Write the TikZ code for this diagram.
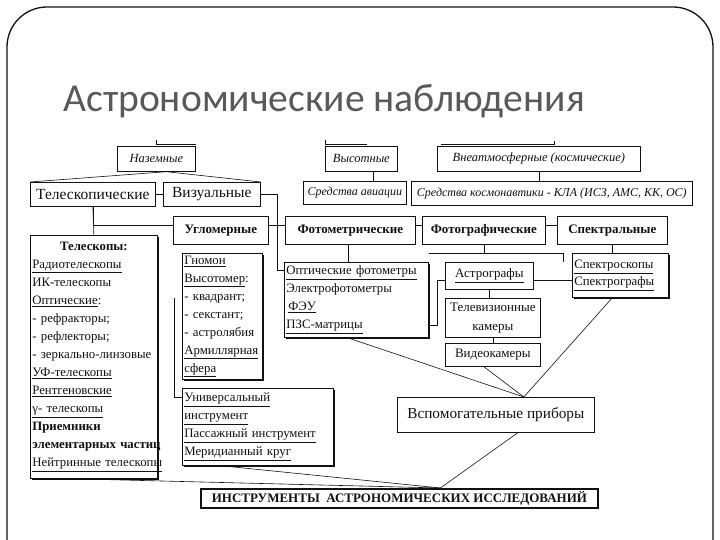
\documentclass[tikz,border=0pt]{standalone}
\usepackage{fontspec}
\setmainfont{Liberation Serif}
\newfontfamily\titlefont{Carlito}
\usetikzlibrary{positioning, calc, shadows}
\definecolor{Ink}{HTML}{111111}
\definecolor{Slate}{HTML}{595959}
\tikzset{
    box/.style={draw=Ink, line width=0.7pt, inner sep=0pt, anchor=north west, text=Ink},
    topbox/.style={box, font=\fontsize{12.5}{14}\selectfont\itshape},
    mainbox/.style={box, font=\fontsize{15.5}{18}\selectfont},
    kindbox/.style={box, font=\fontsize{13}{15}\selectfont\bfseries},
    listbox/.style={box, fill=white, align=left, inner xsep=2pt, font=\fontsize{12.8}{18}\selectfont,
        drop shadow={shadow xshift=1.2pt, shadow yshift=-1.2pt, fill=Ink, opacity=1}},
    smallbox/.style={box, fill=white, align=center, font=\fontsize{13}{19}\selectfont,
        drop shadow={shadow xshift=1pt, shadow yshift=-1pt, fill=Ink, opacity=1}},
    link/.style={draw=Ink, line width=0.6pt},
    frame/.style={draw=Ink, line width=1.3pt, rounded corners=40pt},
}
\begin{document}
\begin{tikzpicture}[x=1pt, y=-1pt]
    \clip (0,0) rectangle (720,540);
    \draw[frame] (7,7) rectangle (713,640);
    \node[anchor=base west, text=Slate, font=\titlefont\fontsize{39.6}{44}\selectfont] (titel) at (60,112) {Астрономические наблюдения};

    % Top row
    \node[topbox, minimum width=78pt, minimum height=25pt] (nazem) at (117,146) {Наземные};
    \node[topbox, minimum width=72pt, minimum height=25pt] (vysot) at (325,146) {Высотные};
    \node[topbox, minimum width=203pt, minimum height=25pt] (vneatm) at (437,146) {Внеатмосферные (космические)};
    \node[topbox, font=\fontsize{12}{14}\selectfont\itshape, minimum width=103pt, minimum height=23pt] (aviac) at (303,181) {Средства авиации};
    \node[topbox, font=\fontsize{12}{14}\selectfont\itshape, minimum width=281pt, minimum height=24pt] (kosm) at (411,181) {Средства космонавтики - КЛА (ИСЗ, АМС, КК, ОС)};

    % Ground methods
    \node[mainbox, minimum width=125pt, minimum height=24pt] (telesk) at (30,182) {Телескопические};
    \node[mainbox, minimum width=97pt, minimum height=24pt] (vizual) at (163,182) {Визуальные};
    \node[kindbox, minimum width=95pt, minimum height=28pt] (uglom) at (173,216) {Угломерные};
    \node[kindbox, minimum width=130pt, minimum height=28pt] (fotom) at (285,216) {Фотометрические};
    \node[kindbox, minimum width=123pt, minimum height=28pt] (fotogr) at (422,216) {Фотографические};
    \node[kindbox, minimum width=110pt, minimum height=28pt] (spektr) at (557,216) {Спектральные};

    % Lists
    \node[listbox, text width=123pt, minimum height=243pt] (teleskopy) at (30,235) {\makebox[\linewidth]{\textbf{Телескопы:}}\\
        \underline{Радиотелескопы}\\
        ИК-телескопы\\
        \underline{Оптические}:\\
        - рефракторы;\\
        - рефлекторы;\\
        \mbox{- зеркально-линзовые}\\
        \underline{УФ-телескопы}\\
        \underline{Рентгеновские}\\
        \underline{γ- телескопы}\\
        \textbf{Приемники}\\
        \mbox{\textbf{элементарных частиц}}\\
        \underline{Нейтринные телескопы}};
    \node[listbox, text width=76pt, minimum height=126pt] (gnomon) at (182,253) {\underline{Гномон}\\
        \underline{Высотомер}:\\
        - квадрант;\\
        - секстант;\\
        - астролябия\\
        \underline{Армиллярная}\\
        \underline{сфера}};
    \node[listbox, text width=147pt, minimum height=77pt] (univ) at (182,388) {\underline{Универсальный}\\
        \underline{инструмент}\\
        \underline{Пассажный инструмент}\\
        \underline{Меридианный круг}};
    \node[listbox, text width=140pt, minimum height=75pt] (optich) at (284,262) {\underline{Оптические фотометры}\\
        Электрофотометры\\
        \hspace*{2pt}\underline{ФЭУ}\\
        \underline{ПЗС-матрицы}};
    \node[smallbox, minimum width=88pt, minimum height=27pt] (astrogr) at (445,262) {\underline{Астрографы}};
    \node[smallbox, minimum width=95pt, minimum height=39pt] (tv) at (445,298) {Телевизионные\\камеры};
    \node[smallbox, minimum width=95pt, minimum height=23pt] (video) at (445,343) {Видеокамеры};
    \node[listbox, text width=92pt, minimum height=44pt, font=\fontsize{12.8}{17}\selectfont] (spektroskop) at (572,253) {\underline{Спектроскопы}\\
        \underline{Спектрографы}};
    \node[box, minimum width=197pt, minimum height=35pt, font=\fontsize{15.3}{18}\selectfont] (vspom) at (397,397) {Вспомогательные приборы};
    \node[box, line width=1.8pt, minimum width=397pt, minimum height=19pt, font=\fontsize{13}{15}\selectfont\bfseries] (instr) at (200,488) {ИНСТРУМЕНТЫ\ \ АСТРОНОМИЧЕСКИХ ИССЛЕДОВАНИЙ};

    % Cut-off links above the top row
    \draw[link] ([yshift=6pt]nazem.north) -- ([yshift=2pt]nazem.north) -- ([yshift=2pt]nazem.north east);
    \draw[link] ([yshift=6pt]vysot.north west) -- ([yshift=2pt]vysot.north west) -- ([yshift=2pt,xshift=42pt]vysot.north west);
    \draw[link] ([yshift=2pt,xshift=4pt]vneatm.north west) -- ([yshift=2pt,xshift=117pt]vneatm.north west) -- ([yshift=5pt,xshift=117pt]vneatm.north west);

    % Links
    \draw[link] (vysot.south) ++(12,0) -- ++(0,10);
    \draw[link] (vneatm.south) -- (vneatm.south |- kosm.north);
    \draw[link] (telesk.north west) -- ([xshift=10pt]nazem.south) -- (vizual.north east);
    \draw[link] (telesk.east) -- (vizual.west);
    \draw[link] (vizual.east) -- ++(17,0) |- ([yshift=-8pt]optich.north west);
    \draw[link] (telesk.south) -- (teleskopy.north);
    \draw[link] ([yshift=5pt]uglom.west) -| (telesk.south);
    \draw[link] ([yshift=5pt]uglom.east) -- ([yshift=5pt]fotom.west);
    \draw[link] ([yshift=5pt]fotom.east) -- ([yshift=5pt]fotogr.west);
    \draw[link] ([yshift=5pt]fotogr.east) -- ([yshift=5pt]spektr.west);
    \coordinate (cutL) at (174,298);
    \draw[link] (cutL) |- ([yshift=-9pt]univ.north west);
    \draw[link] (fotom.south) ++(-2,0) -- ++(0,18);
    \draw[link] (fotogr.south) -- ++(0,9);
    \draw[link] ([yshift=9pt]optich.north east) -- ++(135,0) -- ++(0,9);
    \draw[link] ([yshift=12pt]optich.south east) -- ++(9,0) |- ([yshift=-18pt]astrogr.north west);
    \draw[link] (astrogr.south) -- (astrogr.south |- tv.north);
    \draw[link] (tv.south) -- (video.north);
    \draw[link] ([yshift=-18pt]astrogr.north east) -- ([yshift=-18pt]astrogr.north east -| spektroskop.west);
    \draw[link] (spektr.south) -- (spektr.south |- spektroskop.north);

    % Convergence
    \coordinate (vtop) at ([xshift=28pt]vspom.north);
    \draw[link] ([xshift=-9pt]optich.south) -- (vtop);
    \draw[link] ([xshift=-9pt]video.south) -- (vtop);
    \draw[link] ([xshift=-8pt]spektroskop.south) -- (vtop);
    \coordinate (itop) at ([xshift=41pt]instr.north);
    \draw[link] ([xshift=22pt]vspom.south) -- (itop);
    \draw[link] ([xshift=-23pt]teleskopy.south) -- (itop);
    \draw[link] ([xshift=-37pt]univ.south) -- (itop);
\end{tikzpicture}
\end{document}
